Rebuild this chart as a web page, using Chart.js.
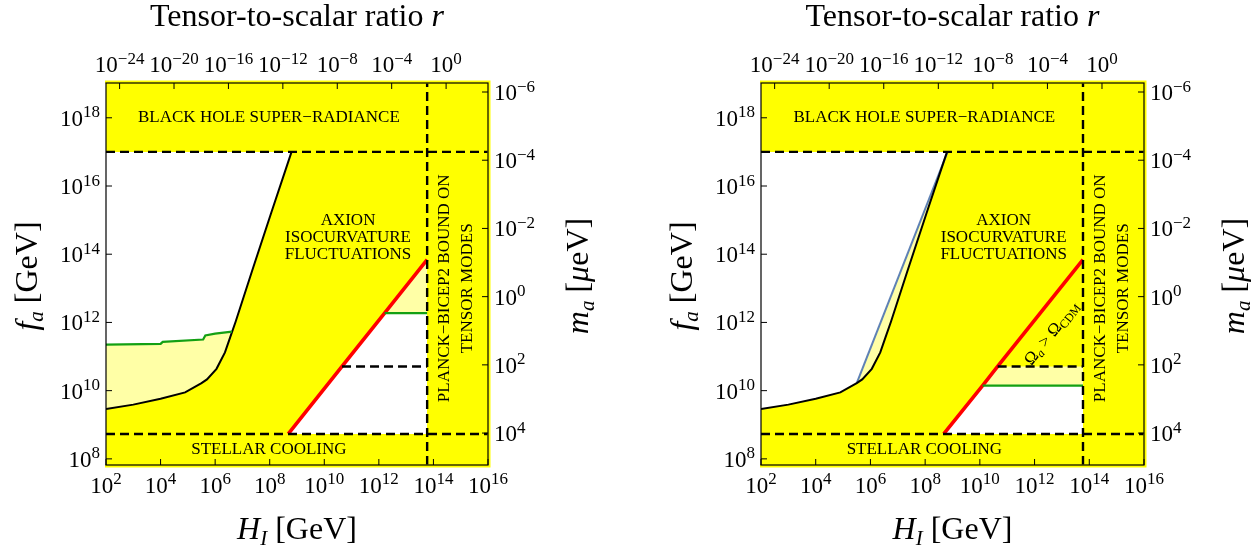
<!DOCTYPE html>
<html>
<head>
<meta charset="utf-8">
<script src="https://cdn.jsdelivr.net/npm/chart.js@4.4.1/dist/chart.umd.min.js"></script>
<style>
  html, body { margin: 0; padding: 0; background: #fff; }
  #wrap { position: relative; width: 1252px; height: 547px; overflow: hidden; }
  canvas { position: absolute; top: 0; }
  #left { left: 0; }
  #right { left: 626px; }
</style>
</head>
<body>
<div id="wrap">
  <canvas id="left" width="626" height="547"></canvas>
  <canvas id="right" width="626" height="547"></canvas>
</div>
<script>
/* ============================================================
   Axion parameter space: f_a vs H_I, two panels
   all values are log10 of the quantity
   ============================================================ */

// ---- axes ----
const hRange  = [2, 16];         // H_I [GeV]
const faRange = [7.82, 19.02];   // f_a [GeV]
const hTicks  = [2, 4, 6, 8, 10, 12, 14, 16];
const faTicks = [8, 10, 12, 14, 16, 18];
const rTicks  = [-24, -20, -16, -12, -8, -4, 0];
const maTicks = [-6, -4, -2, 0, 2, 4];
const hAtR1   = 14.46;    // H_I where r = 1
const faAtMa1 = 12.756;   // f_a where m_a = 1 μeV

// ---- bounds ----
const superRadiance  = 17.0;
const stellarCooling = 8.73;
const tensorBound    = 13.77;

// ---- isocurvature bound (black) ----
const isoH = [2.0, 3.0, 4.0, 4.9, 5.5, 5.7, 6.05, 6.36, 6.55, 6.75, 7.35, 8.05, 8.80];
const isoF = [9.46, 9.59, 9.76, 9.95, 10.22, 10.33, 10.64, 11.12, 11.56, 12.02, 13.5, 15.2, 17.0];

// ---- left panel ----
const leftGreenH  = [2.0, 4.0, 4.08, 5.56, 5.64, 6.0, 6.62];
const leftGreenF  = [11.35, 11.37, 11.43, 11.50, 11.62, 11.67, 11.73];
const leftRedH    = [8.68, 10.65, 12.21, 13.77];
const leftRedF    = [8.73, 10.71, 12.27, 13.84];
const leftGreen2H = [12.21, 13.77];
const leftGreen2F = [12.27, 12.27];
const leftDashH   = [10.65, 13.77];
const leftDashF   = [10.71, 10.71];

// ---- right panel ----
const rightBlueH  = [5.5, 8.82];
const rightBlueF  = [10.22, 17.0];
const rightRedH   = [8.68, 10.10, 10.65, 13.77];
const rightRedF   = [8.73, 10.15, 10.71, 13.84];
const rightGreenH = [10.10, 13.77];
const rightGreenF = [10.15, 10.15];
const rightDashH  = [10.65, 13.77];
const rightDashF  = [10.71, 10.71];

const SERIF  = '"Liberation Serif", "Times New Roman", "DejaVu Serif", serif';
const YELLOW = '#ffff00';
const PALE   = '#ffffa6';
const GREEN  = '#13a013';
const RED    = '#ff0000';
const BLUE   = '#5e81b5';

const pts = (hs, fs) => hs.map((h, i) => ({ x: 10 ** h, y: 10 ** fs[i] }));

// ---- text helpers ----
function font(size, italic) {
    return (italic ? 'italic ' : '') + size + 'px ' + SERIF;
}
function runsWidth(ctx, runs) {
    let w = 0;
    for (const r of runs) { ctx.font = font(r.size, r.italic); w += ctx.measureText(r.t).width; }
    return w;
}
function drawRuns(ctx, runs, x, y, align) {
    const w = runsWidth(ctx, runs);
    let cx = align === 'center' ? x - w / 2 : align === 'right' ? x - w : x;
    ctx.textAlign = 'left';
    ctx.textBaseline = 'alphabetic';
    for (const r of runs) {
        ctx.font = font(r.size, r.italic);
        ctx.fillText(r.t, cx, y + (r.dy || 0));
        cx += ctx.measureText(r.t).width;
    }
}
function pow10(e) {
    return [{ t: '10', size: 23 }, { t: e < 0 ? '\u2212' + (-e) : String(e), size: 17, dy: -8.5 }];
}

// ---- frame, ticks and all text ----
const frameAndText = {
    id: 'frameAndText',
    afterDraw(chart, args, opts) {
        const { ctx, chartArea: a } = chart;
        const { x, y, x2, y2 } = chart.scales;
        const midX = (a.left + a.right) / 2, midY = (a.top + a.bottom) / 2;
        ctx.save();

        // yellow rim of the excluded regions
        ctx.strokeStyle = YELLOW;
        ctx.lineWidth = 3;
        ctx.beginPath();
        ctx.moveTo(a.left - 1, a.top - 1);
        ctx.lineTo(a.right + 1, a.top - 1);
        ctx.lineTo(a.right + 1, a.bottom + 1);
        ctx.lineTo(a.left - 1, a.bottom + 1);
        ctx.stroke();

        ctx.strokeStyle = '#000';
        ctx.lineWidth = 1.2;
        ctx.strokeRect(a.left, a.top, a.right - a.left, a.bottom - a.top);

        ctx.lineWidth = 1;
        ctx.beginPath();
        hTicks.forEach(e => { const p = x.getPixelForValue(10 ** e); ctx.moveTo(p, a.bottom); ctx.lineTo(p, a.bottom - 6); });
        rTicks.forEach(e => { const p = x2.getPixelForValue(10 ** e); ctx.moveTo(p, a.top); ctx.lineTo(p, a.top + 6); });
        faTicks.forEach(e => { const p = y.getPixelForValue(10 ** e); ctx.moveTo(a.left, p); ctx.lineTo(a.left + 6, p); });
        maTicks.forEach(e => { const p = y2.getPixelForValue(10 ** e); ctx.moveTo(a.right, p); ctx.lineTo(a.right - 6, p); });
        ctx.stroke();

        ctx.fillStyle = '#000';
        hTicks.forEach(e => drawRuns(ctx, pow10(e), x.getPixelForValue(10 ** e), a.bottom + 27.5, 'center'));
        rTicks.forEach(e => drawRuns(ctx, pow10(e), x2.getPixelForValue(10 ** e), a.top - 11, 'center'));
        faTicks.forEach(e => drawRuns(ctx, pow10(e), a.left - 6, y.getPixelForValue(10 ** e) + 8, 'right'));
        maTicks.forEach(e => drawRuns(ctx, pow10(e), a.right + 6, y2.getPixelForValue(10 ** e) + 8, 'left'));

        // axis titles
        drawRuns(ctx, [{ t: 'Tensor-to-scalar ratio ', size: 32 }, { t: 'r', size: 32, italic: true }], midX, 26, 'center');
        drawRuns(ctx, [{ t: 'H', size: 32, italic: true }, { t: 'I', size: 21, italic: true, dy: 6 }, { t: ' [GeV]', size: 32 }], midX, 539, 'center');

        ctx.save();
        ctx.translate(a.left - 69, midY + 2);
        ctx.rotate(-Math.PI / 2);
        drawRuns(ctx, [{ t: 'f', size: 32, italic: true }, { t: 'a', size: 21, italic: true, dy: 6 }, { t: ' [GeV]', size: 32 }], 0, 0, 'center');
        ctx.restore();

        ctx.save();
        ctx.translate(a.right + 100, midY + 2);
        ctx.rotate(-Math.PI / 2);
        drawRuns(ctx, [{ t: 'm', size: 32, italic: true }, { t: 'a', size: 21, italic: true, dy: 6 },
                       { t: ' [', size: 32 }, { t: '\u03bc', size: 32, italic: true }, { t: 'eV]', size: 32 }], 0, 0, 'center');
        ctx.restore();

        // region notes
        ctx.font = font(17);
        ctx.textAlign = 'center';
        ctx.textBaseline = 'middle';
        for (const n of opts.notes) {
            const px = x.getPixelForValue(10 ** n.h), py = y.getPixelForValue(10 ** n.f);
            ctx.save();
            ctx.translate(px, py);
            if (n.rot) ctx.rotate(-Math.PI / 2);
            ctx.fillText(n.t, 0, 0);
            ctx.restore();
        }

        if (opts.omega) {
            const r = opts.omega;
            const p0x = x.getPixelForValue(10 ** r.lineH[0]), p0y = y.getPixelForValue(10 ** r.lineF[0]);
            const n = r.lineH.length - 1;
            const p1x = x.getPixelForValue(10 ** r.lineH[n]), p1y = y.getPixelForValue(10 ** r.lineF[n]);
            ctx.save();
            ctx.translate(x.getPixelForValue(10 ** r.h), y.getPixelForValue(10 ** r.f));
            ctx.rotate(Math.atan2(p1y - p0y, p1x - p0x));
            drawRuns(ctx, [{ t: '\u03a9', size: 17 }, { t: 'a', size: 12, italic: true, dy: 3 }, { t: ' > ', size: 17 },
                           { t: '\u03a9', size: 17 }, { t: 'CDM', size: 12, dy: 3 }], 0, 5, 'center');
            ctx.restore();
        }
        ctx.restore();
    }
};

// ---- dataset helpers ----
function area(data, color, fill, order) {
    return { data, fill, backgroundColor: color, borderColor: 'transparent', borderWidth: 0, order, pointRadius: 0 };
}
function curve(data, color, width, order, more) {
    return Object.assign({ data, borderColor: color, borderWidth: width, backgroundColor: PALE,
                           fill: false, order, pointRadius: 0, borderCapStyle: 'butt' }, more);
}
function dashed(data) {
    return curve(data, '#000', 2.4, 1, { borderDash: [9, 5] });
}
function commonSets() {
    return [
        dashed(pts(hRange, [superRadiance, superRadiance])),
        dashed(pts(hRange, [stellarCooling, stellarCooling])),
        dashed(pts([tensorBound, tensorBound], faRange)),
    ];
}

const notes = [
    { t: 'BLACK HOLE SUPER\u2212RADIANCE', h: 7.97, f: 18.0 },
    { t: 'AXION', h: 10.87, f: 15.0 },
    { t: 'ISOCURVATURE', h: 10.87, f: 14.5 },
    { t: 'FLUCTUATIONS', h: 10.87, f: 14.0 },
    { t: 'STELLAR COOLING', h: 7.97, f: 8.26 },
    { t: 'PLANCK\u2212BICEP2 BOUND ON', h: 14.4, f: 13.0, rot: true },
    { t: 'TENSOR MODES', h: 15.25, f: 13.0, rot: true },
];

function panel(id, pad, sets, deco) {
    return new Chart(document.getElementById(id), {
        type: 'line',
        data: { datasets: sets },
        options: {
            responsive: false,
            animation: false,
            events: [],
            layout: { padding: pad },
            elements: { line: { tension: 0 }, point: { radius: 0 } },
            scales: {
                x:  { type: 'logarithmic', position: 'bottom', display: false, min: 10 ** hRange[0], max: 10 ** hRange[1] },
                y:  { type: 'logarithmic', position: 'left', display: false, min: 10 ** faRange[0], max: 10 ** faRange[1] },
                x2: { type: 'logarithmic', position: 'top', display: false,
                      min: 10 ** (2 * (hRange[0] - hAtR1)), max: 10 ** (2 * (hRange[1] - hAtR1)) },
                y2: { type: 'logarithmic', position: 'right', display: false, reverse: true,
                      min: 10 ** (faAtMa1 - faRange[1]), max: 10 ** (faAtMa1 - faRange[0]) },
            },
            plugins: { legend: { display: false }, tooltip: { enabled: false }, frameAndText: deco },
        },
        plugins: [frameAndText],
    });
}

// ---- left panel ----
(function () {
    const iso = pts(isoH, isoF);
    const sets = [
        area(pts(hRange, [faRange[1], faRange[1]]), YELLOW, { value: 10 ** faRange[0] }, 30),
        area(iso, '#ffffff', { value: 10 ** superRadiance }, 29),
        area(pts(leftRedH, leftRedF), '#ffffff', { value: 10 ** stellarCooling }, 28),
        curve(pts(leftGreenH, leftGreenF), GREEN, 2.2, 7),           // 3
        curve(pts(leftGreen2H, leftGreen2F), GREEN, 2.2, 5),         // 4
    ];
    sets.push(curve(iso, '#000', 2, 8, { fill: 3 }));
    sets.push(curve(pts(leftRedH, leftRedF), RED, 3.6, 6, { fill: 4 }));
    sets.push(dashed(pts(leftDashH, leftDashF)));
    sets.push(...commonSets());
    panel('left', { left: 106, right: 138, top: 83, bottom: 82 }, sets, { notes });
})();

// ---- right panel ----
(function () {
    const iso = pts(isoH, isoF);
    const lowWhite = pts(rightRedH.slice(0, 2).concat(rightGreenH.slice(-1)),
                         rightRedF.slice(0, 2).concat(rightGreenF.slice(-1)));
    const paleBand = pts(rightRedH.slice(1, 3).concat(rightDashH.slice(-1)),
                         rightRedF.slice(1, 3).concat(rightDashF.slice(-1)));
    const sets = [
        area(pts(hRange, [faRange[1], faRange[1]]), YELLOW, { value: 10 ** faRange[0] }, 30),
        area(iso, '#ffffff', { value: 10 ** superRadiance }, 29),
        area(lowWhite, '#ffffff', { value: 10 ** stellarCooling }, 28),
        curve(iso, '#000', 2, 8),                                    // 3
        curve(pts(rightGreenH, rightGreenF), GREEN, 2.2, 5),         // 4
    ];
    sets.push(curve(pts(rightBlueH, rightBlueF), BLUE, 2, 9, { fill: 3 }));
    sets.push(area(paleBand, PALE, 4, 10));
    sets.push(curve(pts(rightRedH, rightRedF), RED, 3.6, 6));
    sets.push(dashed(pts(rightDashH, rightDashF)));
    sets.push(...commonSets());
    panel('right', { left: 135, right: 108, top: 83, bottom: 82 }, sets, {
        notes,
        omega: { h: 12.62, f: 11.69, lineH: rightRedH, lineF: rightRedF },
    });
})();
</script>
</body>
</html>
